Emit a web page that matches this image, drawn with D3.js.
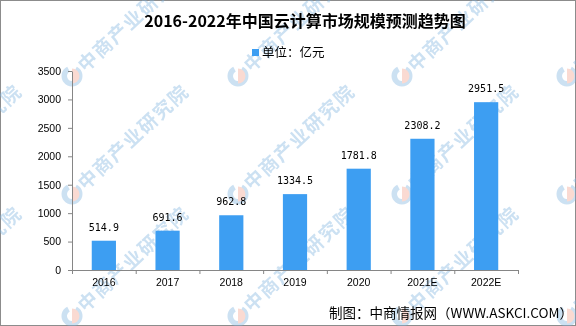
<!doctype html>
<html lang="zh">
<head>
<meta charset="utf-8">
<title>2016-2022年中国云计算市场规模预测趋势图</title>
<script src="https://d3js.org/d3.v7.min.js"></script>
<style>
  body { margin: 0; background: #fff; }
  svg { display: block; }
</style>
</head>
<body>
<div id="chart"></div>
<script>
// data
var years = ["2016", "2017", "2018", "2019", "2020", "2021E", "2022E"];
var values = [514.9, 691.6, 962.8, 1334.5, 1781.8, 2308.2, 2951.5];
var yTicks = [0, 500, 1000, 1500, 2000, 2500, 3000, 3500];

var W = 576, H = 326;
var margin = {top: 71, right: 58, bottom: 56, left: 72};
var width = W - margin.left - margin.right,
    height = H - margin.top - margin.bottom;
var barColor = "#3d9ef2";

var svg = d3.select("#chart").append("svg")
  .attr("width", W)
  .attr("height", H);

// outer frame
svg.append("rect")
  .attr("x", 0.5).attr("y", 0.5)
  .attr("width", W - 1).attr("height", H - 1)
  .attr("fill", "#fff")
  .attr("stroke", "#8c8c8c");

// watermark (logo + rotated text), very faint, behind the chart
var wmX = [-95, 72, 238, 402, 567];
var wmY = [76, 194, 316];
var wm = svg.append("g").attr("opacity", 0.4);
wmY.forEach(function(yy) {
  wmX.forEach(function(xx) {
    var w = wm.append("g").attr("transform", "translate(" + xx + "," + yy + ")");
    w.append("path")
      .attr("d", d3.arc().innerRadius(5).outerRadius(10.5).startAngle(Math.PI * 0.15).endAngle(Math.PI * 1.85)())
      .attr("fill", "#7fb3df");
    w.append("path")
      .attr("d", d3.arc().innerRadius(0).outerRadius(7.5).startAngle(0).endAngle(Math.PI)())
      .attr("fill", "#f2a48e");
    w.append("text")
      .attr("transform", "rotate(-43) translate(12,7)")
      .attr("font-family", "'Noto Sans CJK SC', sans-serif")
      .attr("font-weight", "bold")
      .attr("font-size", "19px")
      .attr("letter-spacing", "1.5px")
      .attr("fill", "#7fb3df")
      .text("中商产业研究院");
  });
});

// title
svg.append("text")
  .attr("x", 305)
  .attr("y", 27)
  .attr("text-anchor", "middle")
  .attr("font-family", "'Noto Sans CJK SC', sans-serif")
  .attr("font-weight", "bold")
  .attr("font-size", "16px")
  .text("2016-2022年中国云计算市场规模预测趋势图");

// legend
svg.append("rect")
  .attr("x", 252).attr("y", 49)
  .attr("width", 7).attr("height", 7)
  .attr("fill", barColor);
svg.append("text")
  .attr("x", 262)
  .attr("y", 57)
  .attr("font-family", "'Noto Sans CJK SC', sans-serif")
  .attr("font-size", "12.5px")
  .text("单位：亿元");

var g = svg.append("g")
  .attr("transform", "translate(" + margin.left + "," + margin.top + ")");

var x = d3.scaleBand()
  .domain(years)
  .range([0, width])
  .paddingInner(0.62)
  .paddingOuter(0.31);

var y = d3.scaleLinear()
  .domain([0, 3500])
  .range([height, 0]);

// bars
g.selectAll(".bar")
  .data(values)
  .enter()
  .append("rect")
  .attr("class", "bar")
  .attr("x", function(d, i) { return x(years[i]); })
  .attr("y", function(d) { return y(d); })
  .attr("width", x.bandwidth())
  .attr("height", function(d) { return height - y(d); })
  .attr("fill", barColor);

// value labels
g.selectAll(".lbl")
  .data(values)
  .enter()
  .append("text")
  .attr("class", "lbl")
  .attr("x", function(d, i) { return x(years[i]) + x.bandwidth() / 2; })
  .attr("y", function(d) { return y(d) - 10; })
  .attr("text-anchor", "middle")
  .attr("font-family", "'DejaVu Sans Mono', monospace")
  .attr("font-size", "10px")
  .text(function(d) { return d3.format(".1f")(d); });

// axes
var xAxis = d3.axisBottom(d3.scalePoint().domain(d3.range(years.length + 1)).range([0, width]))
  .tickSize(4).tickFormat("");
var xg = g.append("g")
  .attr("transform", "translate(0," + height + ")")
  .call(xAxis);
xg.selectAll("path, line").attr("stroke", "#868686");

g.selectAll(".xlbl")
  .data(years)
  .enter()
  .append("text")
  .attr("class", "xlbl")
  .attr("x", function(d) { return x(d) + x.bandwidth() / 2; })
  .attr("y", height + 16)
  .attr("text-anchor", "middle")
  .attr("font-family", "'Liberation Sans', sans-serif")
  .attr("font-size", "10.5px")
  .text(function(d) { return d; });

var yg = g.append("g")
  .call(d3.axisLeft(y).tickValues(yTicks).tickFormat(d3.format("d"))
    .tickSize(4).tickSizeOuter(0).tickPadding(7));
yg.selectAll("path, line").attr("stroke", "#868686");
yg.selectAll("text")
  .attr("font-family", "'Liberation Sans', sans-serif")
  .attr("font-size", "10.5px")
  .attr("fill", "#000");

// source
svg.append("text")
  .attr("x", 573)
  .attr("y", 318)
  .attr("text-anchor", "end")
  .attr("font-family", "'Noto Sans CJK SC', sans-serif")
  .attr("font-size", "13.5px")
  .text("制图：中商情报网（WWW.ASKCI.COM）");
</script>
</body>
</html>
